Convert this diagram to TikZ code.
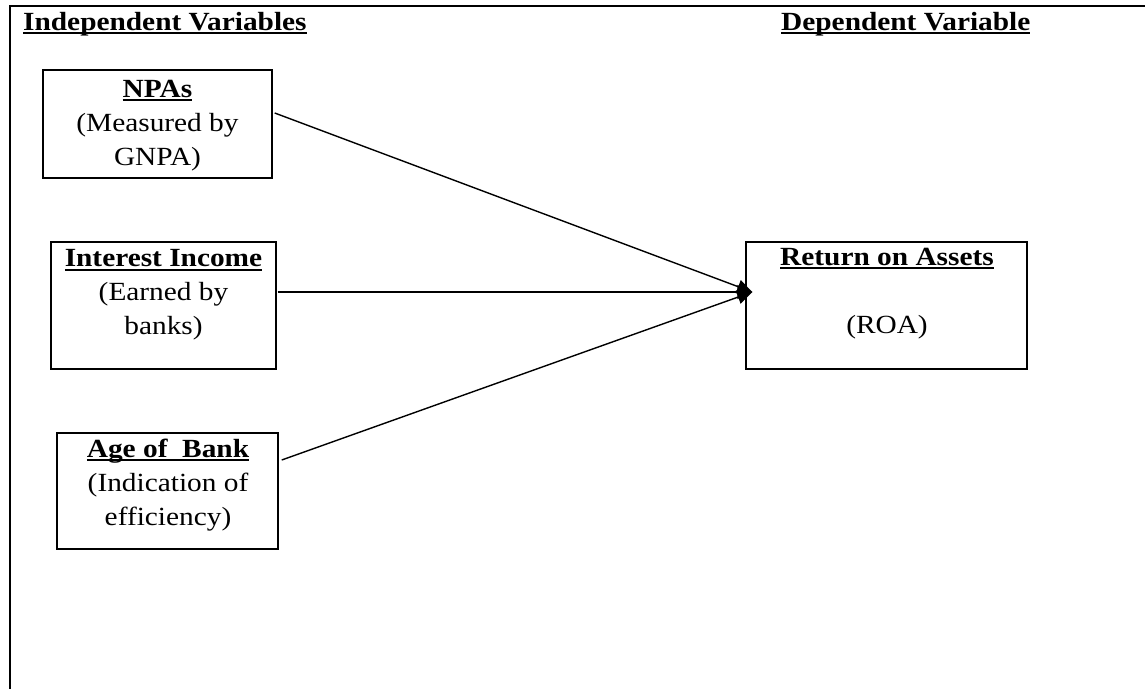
\documentclass[tikz,border=0pt]{standalone}
\usepackage{fontspec}
\setmainfont[FakeStretch=1.12]{Liberation Serif}
\usetikzlibrary{arrows.meta}
\newcommand{\myul}[1]{\setbox0=\hbox{#1}\rlap{\rule[-3.8pt]{\wd0}{1.9pt}}\box0}
\begin{document}
\begin{tikzpicture}[x=1pt,y=-1pt,
  box/.style={draw, line width=1.4pt, inner sep=0pt, rectangle},
  txt/.style={anchor=north, inner sep=0pt, align=center, font=\fontsize{26.2}{34}\selectfont},
  head/.style={anchor=base west, inner sep=0pt, font=\bfseries\fontsize{26.2}{34}\selectfont},
  conn/.style={line width=1.4pt, -{Triangle[length=15pt,width=14pt]}}]
\useasboundingbox (0,0) rectangle (1145,689);
\draw[line width=1.8pt] (1145,6) -- (10,6) -- (10,689);
\node[head] (indep) at (23,30) {\myul{Independent Variables}};
\node[head] (dep) at (781,30) {\myul{Dependent Variable}};
\node[box, minimum width=229pt, minimum height=108pt] (npa) at (157.5,124) {};
\node[box, minimum width=225pt, minimum height=127pt] (int) at (163.5,305.5) {};
\node[box, minimum width=221pt, minimum height=116pt] (age) at (167.5,491) {};
\node[box, minimum width=281pt, minimum height=127pt] (roa) at (886.5,305.5) {};
\node[txt] (npat) at (157.5,78) {\rule{0pt}{19pt}\textbf{\myul{NPAs}}\\(Measured by\\GNPA)};
\node[txt] (intt) at (163.5,247.7) {\rule{0pt}{19pt}\textbf{\myul{Interest Income}}\\(Earned by\\banks)};
\node[txt] (aget) at (168,438) {\rule{0pt}{19pt}\textbf{\myul{Age of~ Bank}}\\(Indication of\\efficiency)};
\node[txt] (roat) at (887,246) {\rule{0pt}{19pt}\textbf{\myul{Return on Assets}}\\\mbox{}\\(ROA)};
\draw[conn] ([xshift=2pt,yshift=11pt]npa.east) -- ([xshift=7pt,yshift=13.5pt]roa.west);
\draw[conn] ([xshift=1pt,yshift=13.5pt]int.east) -- ([xshift=7pt,yshift=13.5pt]roa.west);
\draw[conn] ([xshift=3pt,yshift=31pt]age.east) -- ([xshift=7pt,yshift=13.5pt]roa.west);
\end{tikzpicture}
\end{document}
